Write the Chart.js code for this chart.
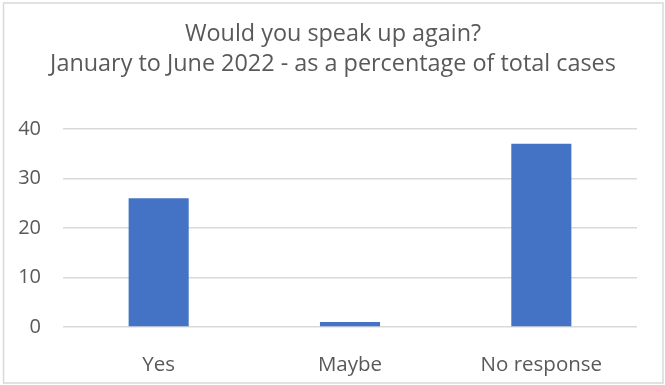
<!DOCTYPE html>
<html>
<head>
<meta charset="utf-8">
<script src="https://cdn.jsdelivr.net/npm/chart.js@4/dist/chart.umd.min.js"></script>
<style>
  html, body { margin: 0; padding: 0; background: #fff; }
  #wrap { width: 665px; height: 385px; position: relative; }
</style>
</head>
<body>
<div id="wrap"><canvas id="speakChart"></canvas></div>
<script>
// Respuestas: ¿volvería a denunciar?
const categories = ['Yes', 'Maybe', 'No response'];
const percentages = [26, 1, 37];
const yTicks = [0, 10, 20, 30, 40];
const titleLines = ['Would you speak up again?', 'January to June 2022 - as a percentage of total cases'];

const textColor = '#595959';
const gridColor = '#d9d9d9';
const fontFamily = '"Open Sans", "Liberation Sans", sans-serif';

// Marco exterior y título dibujados a mano
const framePlugin = {
    id: 'frame',
    beforeDraw(chart) {
        const c = chart.ctx;
        c.save();
        c.fillStyle = '#fff';
        c.fillRect(0, 0, chart.width, chart.height);
        c.strokeStyle = gridColor;
        c.lineWidth = 1.5;
        c.strokeRect(3.5, 3, 659.5, 380);
        c.fillStyle = textColor;
        c.font = '23.4px ' + fontFamily;
        c.textAlign = 'center';
        c.textBaseline = 'alphabetic';
        c.fillText(titleLines[0], 333, 41);
        c.fillText(titleLines[1], 333, 71);
        c.restore();
    }
};

const ctx = document.getElementById('speakChart').getContext('2d');
new Chart(ctx, {
    type: 'bar',
    data: {
        labels: categories,
        datasets: [{
            data: percentages,
            backgroundColor: '#4472c4',
            categoryPercentage: 1,
            barPercentage: 0.314
        }]
    },
    options: {
        responsive: true,
        maintainAspectRatio: false,
        animation: false,
        layout: { padding: { left: 0, right: 28, top: 129, bottom: 0 } },
        plugins: {
            legend: { display: false },
            title: { display: false },
            tooltip: { enabled: false }
        },
        scales: {
            x: {
                grid: { display: false, drawTicks: false },
                border: { display: false },
                ticks: {
                    color: textColor,
                    font: { family: fontFamily, size: 20.5 },
                    padding: 26,
                    maxRotation: 0
                },
                afterFit(scale) { scale.height = 58; }
            },
            y: {
                min: 0,
                max: 40,
                afterBuildTicks(scale) { scale.ticks = yTicks.map(v => ({ value: v })); },
                grid: { color: gridColor, lineWidth: 1.5, drawTicks: false },
                border: { display: false },
                ticks: {
                    color: textColor,
                    font: { family: fontFamily, size: 20 },
                    padding: 22
                },
                afterFit(scale) { scale.width = 63; }
            }
        }
    },
    plugins: [framePlugin]
});
</script>
</body>
</html>
